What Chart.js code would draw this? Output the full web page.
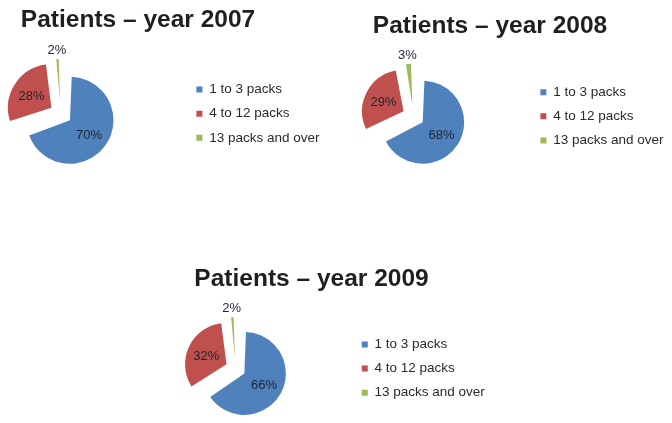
<!DOCTYPE html>
<html>
<head>
<meta charset="utf-8">
<script src="https://cdn.jsdelivr.net/npm/chart.js@4.4.1/dist/chart.umd.min.js"></script>
<style>
  html, body { margin: 0; padding: 0; background: #ffffff; }
  body { width: 672px; height: 423px; overflow: hidden; position: relative; }
  .box { position: absolute; }
  .box canvas { display: block; }
</style>
</head>
<body>
<div class="box" id="box0"><canvas id="c0"></canvas></div>
<div class="box" id="box1"><canvas id="c1"></canvas></div>
<div class="box" id="box2"><canvas id="c2"></canvas></div>
<script>
// ---- data ----
const categories = ['1 to 3 packs', '4 to 12 packs', '13 packs and over'];
const years = ['2007', '2008', '2009'];
const share2007 = [70, 28, 2];
const share2008 = [68, 29, 3];
const share2009 = [66, 32, 2];
const sliceColors = ['#4F81BD', '#C0504D', '#9BBB59'];

// ---- layout (positions / styles kept apart from data) ----
const FONT = '"Liberation Sans", Arial, Helvetica, sans-serif';
const panels = [
  { values: share2007, year: years[0], x: -64, y: 0,   w: 404, h: 175, r: 43.5, explode: 11.2, pt: 5.1,  pb: 17.9, spacer: 10.55 },
  { values: share2008, year: years[1], x: 297, y: 0,   w: 386, h: 175, r: 41.5, explode: 11,   pt: 12,   pb: 16.2, spacer: 9.55 },
  { values: share2009, year: years[2], x: 120, y: 250, w: 383, h: 173, r: 41.5, explode: 10,   pt: 14.3, pb: 20.5, spacer: 8.15 }
];

function makeChart(idx, P) {
  const box = document.getElementById('box' + idx);
  box.style.left = P.x + 'px';
  box.style.top = P.y + 'px';
  box.style.width = P.w + 'px';
  box.style.height = P.h + 'px';

  // keep every slice at the same radius when exploded
  const radiusFix = {
    id: 'radiusFix' + idx,
    beforeDatasetDraw(chart, args) {
      args.meta.data.forEach(el => {
        const o = (el.options.offset || 0) / 4;
        const fix = 1 - Math.sin(Math.min(Math.PI, el.circumference || 0));
        el.outerRadius = P.r - o * fix;
      });
    }
  };

  const pctLabels = {
    id: 'pctLabels' + idx,
    afterDatasetsDraw(chart) {
      const ctx = chart.ctx;
      const meta = chart.getDatasetMeta(0);
      const data = chart.data.datasets[0].data;
      ctx.save();
      ctx.font = '13px ' + FONT;
      ctx.fillStyle = '#1d2434';
      ctx.textAlign = 'center';
      ctx.textBaseline = 'middle';
      meta.data.forEach((el, i) => {
        const shift = (el.options.offset || 0) / 4;
        const mid = (el.startAngle + el.endAngle) / 2;
        const rr = data[i] < 5 ? shift + P.r + 10 : shift + 0.54 * P.r;
        ctx.fillText(data[i] + '%', el.x + Math.cos(mid) * rr, el.y + Math.sin(mid) * rr + 1.5);
      });
      ctx.restore();
    }
  };

  return new Chart(document.getElementById('c' + idx), {
    type: 'pie',
    data: {
      labels: categories,
      datasets: [{
        data: P.values,
        backgroundColor: sliceColors,
        borderWidth: 0,
        offset: P.explode * 4,
        hoverOffset: 0,
        clip: false
      }]
    },
    options: {
      responsive: true,
      maintainAspectRatio: false,
      animation: false,
      events: [],
      devicePixelRatio: 1,
      radius: P.r,
      layout: { padding: 0 },
      plugins: {
        tooltip: { enabled: false },
        title: {
          display: true,
          text: 'Patients \u2013 year ' + P.year,
          position: 'top',
          fullSize: true,
          align: 'center',
          color: '#1f1f1f',
          font: { family: FONT, size: 24.5, weight: 'bold', lineHeight: 1.2 },
          padding: { top: P.pt, bottom: P.pb }
        },
        subtitle: {
          display: true,
          text: '',
          position: 'right',
          fullSize: false,
          font: { size: 5, lineHeight: 1 },
          padding: { top: P.spacer - 5, bottom: 0 }
        },
        legend: {
          display: true,
          position: 'right',
          fullSize: false,
          align: 'center',
          maxWidth: 400,
          labels: {
            boxWidth: 6,
            boxHeight: 6,
            padding: 10.6,
            color: '#2a2a2a',
            font: { family: FONT, size: 13.5 }
          }
        }
      }
    },
    plugins: [radiusFix, pctLabels]
  });
}

panels.forEach((P, i) => makeChart(i, P));
</script>
</body>
</html>
